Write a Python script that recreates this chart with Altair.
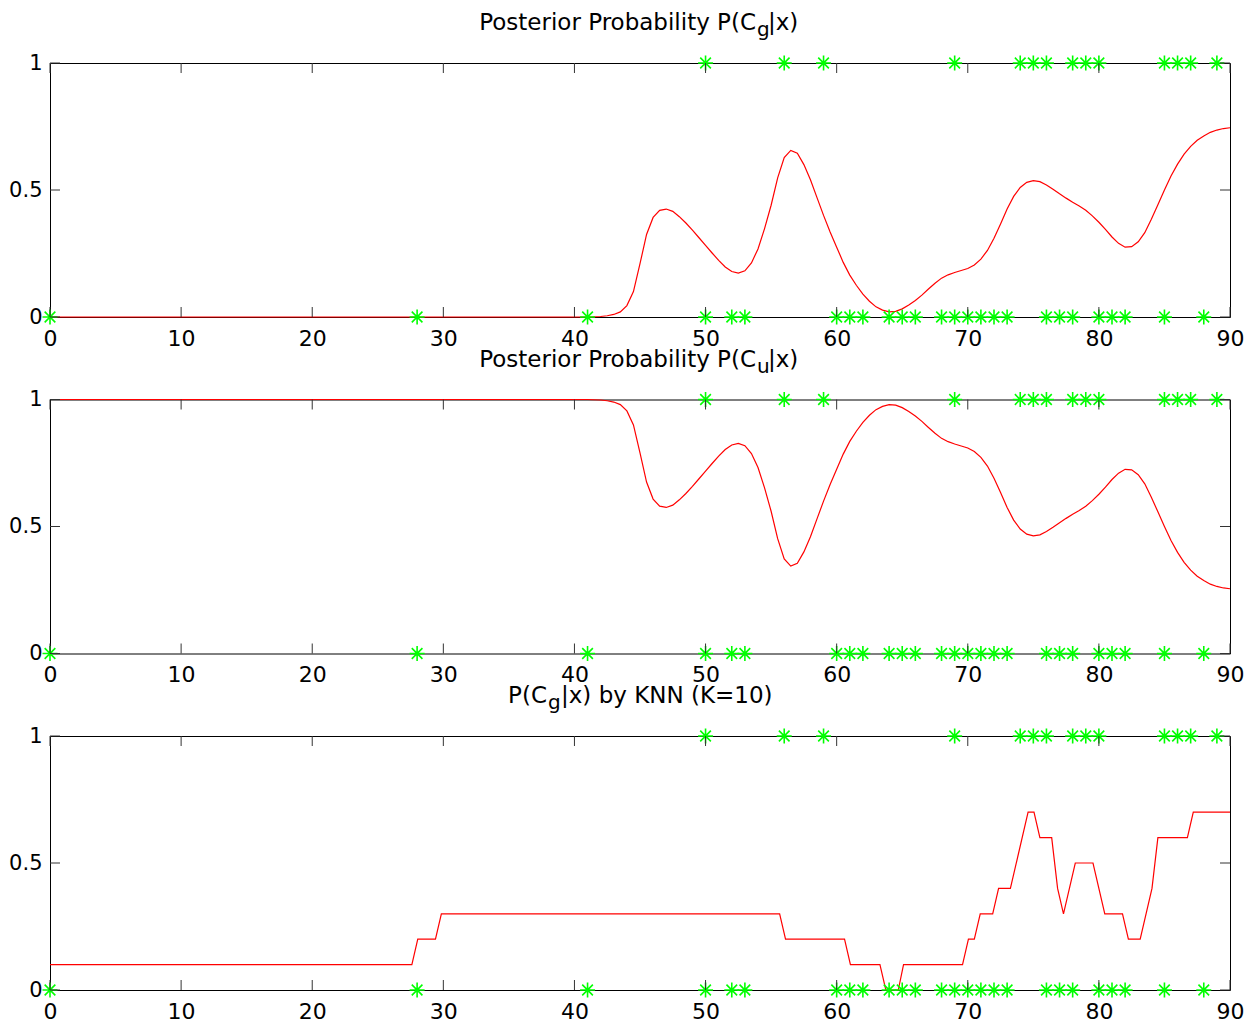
import altair as alt
import pandas as pd

# ---------------- data ----------------
x_post = [0, 10, 20, 30, 40, 41, 41.5, 42, 42.5, 43, 43.5, 44, 44.5, 45, 45.5, 46, 46.5,
          47, 47.5, 48, 48.5, 49, 49.5, 50, 50.5, 51, 51.5, 52, 52.5, 53, 53.5, 54, 54.5,
          55, 55.5, 56, 56.5, 57, 57.5, 58, 58.5, 59, 59.5, 60, 60.5, 61, 61.5, 62, 62.5,
          63, 63.5, 64, 64.5, 65, 65.5, 66, 66.5, 67, 67.5, 68, 68.5, 69, 69.5, 70, 70.5,
          71, 71.5, 72, 72.5, 73, 73.5, 74, 74.5, 75, 75.5, 76, 76.5, 77, 77.5, 78, 78.5,
          79, 79.5, 80, 80.5, 81, 81.5, 82, 82.5, 83, 83.5, 84, 84.5, 85, 85.5, 86, 86.5,
          87, 87.5, 88, 88.5, 89, 89.5, 90]

p_g = [0, 0, 0, 0, 0, 0.000, 0.001, 0.002, 0.005, 0.010, 0.020, 0.045, 0.100, 0.210, 0.325,
       0.392, 0.420, 0.425, 0.416, 0.395, 0.370, 0.342, 0.312, 0.282, 0.252, 0.223, 0.197,
       0.179, 0.173, 0.182, 0.213, 0.268, 0.348, 0.440, 0.548, 0.628, 0.656, 0.645, 0.600,
       0.540, 0.470, 0.400, 0.335, 0.275, 0.215, 0.165, 0.125, 0.090, 0.062, 0.040, 0.027,
       0.020, 0.022, 0.032, 0.047, 0.065, 0.086, 0.110, 0.133, 0.153, 0.166, 0.175, 0.183,
       0.191, 0.205, 0.228, 0.262, 0.310, 0.366, 0.425, 0.475, 0.510, 0.530, 0.537, 0.533,
       0.520, 0.503, 0.485, 0.468, 0.452, 0.437, 0.420, 0.398, 0.373, 0.345, 0.315, 0.290,
       0.275, 0.277, 0.296, 0.332, 0.385, 0.442, 0.500, 0.555, 0.602, 0.641, 0.672, 0.696,
       0.713, 0.727, 0.736, 0.742, 0.745]

p_u = [1, 1, 1, 1, 1, 1.000, 0.999, 0.998, 0.995, 0.990, 0.980, 0.955, 0.900, 0.790, 0.675,
       0.608, 0.580, 0.575, 0.584, 0.605, 0.630, 0.658, 0.688, 0.718, 0.748, 0.777, 0.803,
       0.821, 0.827, 0.818, 0.787, 0.732, 0.652, 0.560, 0.452, 0.372, 0.344, 0.355, 0.400,
       0.460, 0.530, 0.600, 0.665, 0.725, 0.785, 0.835, 0.875, 0.910, 0.938, 0.960, 0.973,
       0.980, 0.978, 0.968, 0.953, 0.935, 0.914, 0.890, 0.867, 0.847, 0.834, 0.825, 0.817,
       0.809, 0.795, 0.772, 0.738, 0.690, 0.634, 0.575, 0.525, 0.490, 0.470, 0.463, 0.467,
       0.480, 0.497, 0.515, 0.532, 0.548, 0.563, 0.580, 0.602, 0.627, 0.655, 0.685, 0.710,
       0.725, 0.723, 0.704, 0.668, 0.615, 0.558, 0.500, 0.445, 0.398, 0.359, 0.328, 0.304,
       0.287, 0.273, 0.264, 0.258, 0.255]

knn_x = [0, 27.6, 28.05, 29.4, 29.85, 55.65, 56.1, 60.6, 61.05, 63.3, 63.75, 64.7, 65.1,
         69.6, 70.05, 70.5, 70.95, 71.9, 72.35, 73.25, 74.6, 75.05, 75.5, 76.4, 76.85,
         77.3, 78.2, 79.55, 80.45, 81.8, 82.25, 83.15, 84.05, 84.5, 86.75, 87.2, 90]
knn_p = [0.1, 0.1, 0.2, 0.2, 0.3, 0.3, 0.2, 0.2, 0.1, 0.1, 0, 0, 0.1, 0.1, 0.2, 0.2, 0.3,
         0.3, 0.4, 0.4, 0.7, 0.7, 0.6, 0.6, 0.4, 0.3, 0.5, 0.5, 0.3, 0.3, 0.2, 0.2, 0.4,
         0.6, 0.6, 0.7, 0.7]

g_pts = [50, 56, 59, 69, 74, 75, 76, 78, 79, 80, 85, 86, 87, 89]
u_pts = [0, 28, 41, 50, 52, 53, 60, 61, 62, 64, 65, 66, 68, 69, 70, 71, 72, 73, 76, 77, 78,
         80, 81, 82, 85, 88]

x_ticks = [0, 10, 20, 30, 40, 50, 60, 70, 80, 90]
y_ticks = [0, 0.5, 1]

# ---------------- chart ----------------
W, H = 1180, 254
FONT = "DejaVu Sans"
STAR = "M-1,0L1,0M0,-1L0,1M-0.71,-0.71L0.71,0.71M-0.71,0.71L0.71,-0.71"

xs = alt.Scale(domain=[0, 90], nice=False, zero=False)
ys = alt.Scale(domain=[0, 1], nice=False, zero=False)

stars_df = pd.DataFrame({"x": g_pts + u_pts,
                         "level": [1] * len(g_pts) + [0] * len(u_pts)})
xt_df = pd.DataFrame({"t": x_ticks})
yt_df = pd.DataFrame({"t": y_ticks})
one = pd.DataFrame({"k": [0]})

xaxis = alt.Axis(values=x_ticks, ticks=False, domain=False, grid=False, title=None,
                 labelFontSize=22, labelPadding=11, labelFlush=False, labelOverlap=False,
                 labelFont=FONT, labelColor="black", format="d")
yaxis = alt.Axis(values=y_ticks, ticks=False, domain=False, grid=False, title=None,
                 labelFontSize=21, labelPadding=8, labelOverlap=False,
                 labelFont=FONT, labelColor="black", format="~g")


def title_text(txt, x, y, align, size):
    return alt.Chart(one).mark_text(font=FONT, fontSize=size, align=align,
                                    baseline="alphabetic", color="black").encode(
        x=alt.value(x), y=alt.value(y), text=alt.value(txt))


def panel(cx, cy, main, sub, rest, main_right, sub_x, rest_x):
    curve = pd.DataFrame({"x": cx, "p": cy})
    line = alt.Chart(curve).mark_line(color="#ff0000", strokeWidth=1.2).encode(
        x=alt.X("x:Q", scale=xs, axis=xaxis),
        y=alt.Y("p:Q", scale=ys, axis=yaxis))
    stars = alt.Chart(stars_df).mark_point(shape=STAR, size=225, filled=False,
                                           color="#00ff00", strokeWidth=1.6,
                                           opacity=1).encode(
        x=alt.X("x:Q", scale=xs, axis=xaxis),
        y=alt.Y("level:Q", scale=ys, axis=yaxis))
    tick_style = dict(color="#333333", strokeWidth=1)
    bt = alt.Chart(xt_df).mark_rule(**tick_style).encode(
        x=alt.X("t:Q", scale=xs, axis=xaxis), y=alt.value(H), y2=alt.value(H - 10))
    tt = alt.Chart(xt_df).mark_rule(**tick_style).encode(
        x=alt.X("t:Q", scale=xs, axis=xaxis), y=alt.value(0), y2=alt.value(10))
    lt = alt.Chart(yt_df).mark_rule(**tick_style).encode(
        y=alt.Y("t:Q", scale=ys, axis=yaxis), x=alt.value(0), x2=alt.value(10))
    rt = alt.Chart(yt_df).mark_rule(**tick_style).encode(
        y=alt.Y("t:Q", scale=ys, axis=yaxis), x=alt.value(W), x2=alt.value(W - 10))
    t1 = title_text(main, main_right, -33, "right", 23)
    t2 = title_text(sub, sub_x, -27, "left", 20)
    t3 = title_text(rest, rest_x, -33, "left", 23)
    return alt.layer(line, stars, bt, tt, lt, rt, t1, t2, t3).properties(width=W, height=H)


p1 = panel(x_post, p_g, "Posterior Probability P(C", "g", "|x)", 706, 707, 718)
p2 = panel(x_post, p_u, "Posterior Probability P(C", "u", "|x)", 706, 707, 718)
p3 = panel(knn_x, knn_p, "P(C", "g", "|x) by KNN (K=10)", 497, 498, 511)

chart = alt.vconcat(p1, p2, p3, spacing=82.5, bounds="flush").properties(
    padding={"left": 0, "top": 3, "right": 0, "bottom": 0},
    background="white",
).configure_view(stroke="black", strokeWidth=1)

chart.save("out.html", embed_options={"renderer": "svg", "actions": False})
